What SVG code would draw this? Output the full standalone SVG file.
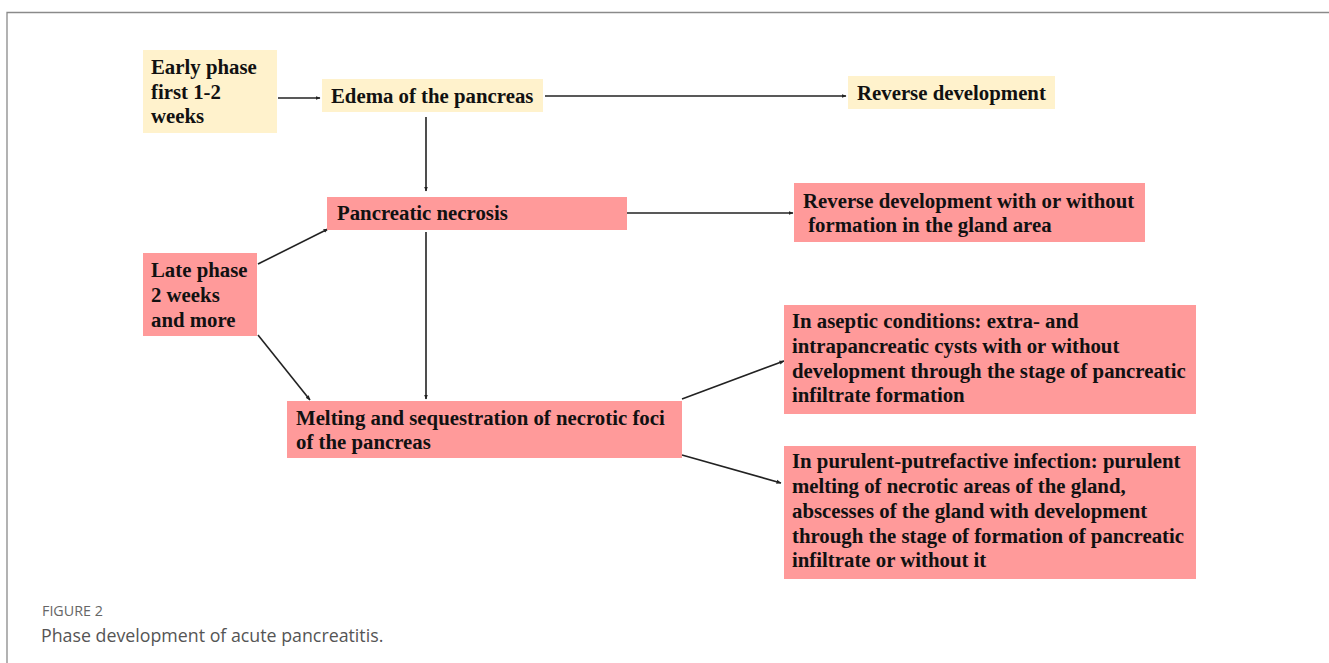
<svg xmlns="http://www.w3.org/2000/svg" width="1329" height="663" viewBox="0 0 1329 663">
<defs>
<style>
.frame{fill:none;stroke:#8a8a8a;stroke-width:1.3}
.y{fill:#fff2cc}
.p{fill:#ff9a9a}
.t{font-family:"Liberation Serif","Times New Roman",serif;font-weight:bold;font-size:20.8px;fill:#111}
.c{stroke:#222;stroke-width:1.6;fill:none;marker-end:url(#ah)}
.cap1{font-family:"Open Sans","Liberation Sans",sans-serif;font-size:14.3px;fill:#666}
.cap2{font-family:"Open Sans","Liberation Sans",sans-serif;font-size:17.8px;fill:#555}
</style>
<marker id="ah" viewBox="0 0 10 10" refX="9" refY="5" markerWidth="5" markerHeight="5" orient="auto" markerUnits="userSpaceOnUse">
<path d="M0,1 L10,5 L0,9 z" fill="#222"/>
</marker>
</defs>
<rect width="1329" height="663" fill="#fff"/>
<path class="frame" d="M7,663 V12.5 H1329"/>
<g id="connectors">
<line class="c" x1="278" y1="98" x2="320" y2="98"/>
<line class="c" x1="545" y1="96" x2="846" y2="96"/>
<line class="c" x1="426" y1="117" x2="426" y2="191"/>
<line class="c" x1="627" y1="213" x2="793" y2="213"/>
<line class="c" x1="426" y1="232" x2="426" y2="399"/>
<line class="c" x1="258" y1="264" x2="328" y2="229"/>
<line class="c" x1="258" y1="335" x2="310" y2="400"/>
<line class="c" x1="682" y1="399" x2="784" y2="361"/>
<line class="c" x1="682" y1="455" x2="781" y2="483"/>
</g>
<g id="early"><rect class="y" x="143" y="50" width="134" height="83"/>
<text class="t" x="151"><tspan x="151" y="74">Early phase</tspan><tspan x="151" y="99">first 1-2</tspan><tspan x="151" y="123">weeks</tspan></text></g>
<g id="edema"><rect class="y" x="322" y="79" width="221" height="33"/>
<text class="t" x="331" y="103">Edema of the pancreas</text></g>
<g id="reverse"><rect class="y" x="848" y="76" width="207" height="33"/>
<text class="t" x="857" y="100">Reverse development</text></g>
<g id="necrosis"><rect class="p" x="327" y="197" width="300" height="33"/>
<text class="t" x="337" y="220">Pancreatic necrosis</text></g>
<g id="reverse2"><rect class="p" x="794" y="183" width="351" height="59"/>
<text class="t"><tspan x="803" y="208">Reverse development with or without</tspan><tspan x="803" y="232"> formation in the gland area</tspan></text></g>
<g id="late"><rect class="p" x="143" y="253" width="114" height="83"/>
<text class="t"><tspan x="151" y="277">Late phase</tspan><tspan x="151" y="302">2 weeks</tspan><tspan x="151" y="327">and more</tspan></text></g>
<g id="melting"><rect class="p" x="287" y="401" width="395" height="57"/>
<text class="t"><tspan x="296" y="425">Melting and sequestration of necrotic foci</tspan><tspan x="296" y="449">of the pancreas</tspan></text></g>
<g id="aseptic"><rect class="p" x="784" y="305" width="412" height="109"/>
<text class="t"><tspan x="792" y="328">In aseptic conditions: extra- and</tspan><tspan x="792" y="353">intrapancreatic cysts with or without</tspan><tspan x="792" y="378">development through the stage of pancreatic</tspan><tspan x="792" y="402">infiltrate formation</tspan></text></g>
<g id="purulent"><rect class="p" x="784" y="446" width="412" height="133"/>
<text class="t"><tspan x="792" y="468">In purulent-putrefactive infection: purulent</tspan><tspan x="792" y="493">melting of necrotic areas of the gland,</tspan><tspan x="792" y="518">abscesses of the gland with development</tspan><tspan x="792" y="543">through the stage of formation of pancreatic</tspan><tspan x="792" y="567">infiltrate or without it</tspan></text></g>
<text class="cap1" x="42" y="616">FIGURE 2</text>
<text class="cap2" x="41" y="642">Phase development of acute pancreatitis.</text>
</svg>
